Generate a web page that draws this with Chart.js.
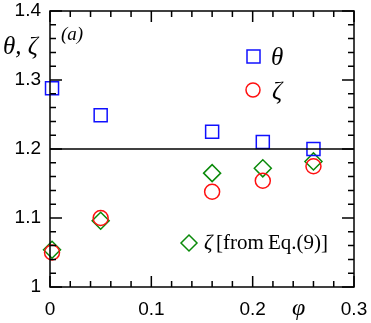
<!DOCTYPE html>
<html>
<head>
<meta charset="utf-8">
<script src="https://cdn.jsdelivr.net/npm/chart.js@4.4.1/dist/chart.umd.min.js"></script>
<style>
  html, body { margin: 0; padding: 0; background: #fff; }
  #wrap { width: 371px; height: 323px; }
</style>
</head>
<body>
<div id="wrap"><canvas id="chart" width="371" height="323"></canvas></div>
<script>
// Data
var phi     = [0.002, 0.05, 0.16, 0.21, 0.26];
var theta   = [1.288, 1.249, 1.225, 1.210, 1.200];
var zeta    = [1.050, 1.100, 1.138, 1.154, 1.175];
var zetaEq9 = [1.054, 1.096, 1.165, 1.172, 1.182];
var refLevel = 1.2;
var refSpan  = [0, 0.3];

// Axis ticks
var xTicks = [0, 0.1, 0.2, 0.3];
var yTicks = [1, 1.1, 1.2, 1.3, 1.4];
var xMinorStep = 0.02;
var yMinorStep = 0.02;

var BLUE = '#1010ff', RED = '#ff1010', GREEN = '#0a8a0a';
var SANS = "'Liberation Sans', Arial, sans-serif";
var SERIF = "'Liberation Serif', 'DejaVu Serif', serif";

function pts(xs, ys) {
  return xs.map(function(x, i) { return { x: x, y: ys[i] }; });
}

// Inward ticks on all four sides + frame + text annotations
var framePlugin = {
  id: 'frame',
  afterDraw: function(chart) {
    var ctx = chart.ctx, a = chart.chartArea;
    var xs = chart.scales.x, ys = chart.scales.y;
    ctx.save();
    ctx.strokeStyle = '#000';
    ctx.lineWidth = 1.5;
    ctx.strokeRect(a.left, a.top, a.right - a.left, a.bottom - a.top);

    function major(list, v) {
      return list.some(function(t) { return Math.abs(t - v) < 1e-6; });
    }
    ctx.beginPath();
    var v, p, len;
    for (v = xs.min; v <= xs.max + 1e-9; v += xMinorStep) {
      p = xs.getPixelForValue(v);
      len = major(xTicks, v) ? 11 : 6;
      ctx.moveTo(p, a.bottom); ctx.lineTo(p, a.bottom - len);
      ctx.moveTo(p, a.top); ctx.lineTo(p, a.top + len);
    }
    for (v = ys.min; v <= ys.max + 1e-9; v += yMinorStep) {
      p = ys.getPixelForValue(v);
      len = major(yTicks, v) ? 12 : 6;
      ctx.moveTo(a.left, p); ctx.lineTo(a.left + len, p);
      ctx.moveTo(a.right, p); ctx.lineTo(a.right - len, p);
    }
    ctx.stroke();

    // axis titles and panel label
    ctx.fillStyle = '#000';
    ctx.textBaseline = 'middle';
    ctx.textAlign = 'left';
    ctx.font = 'italic 25px ' + SERIF;
    ctx.fillText('\u03B8, \u03B6', 3, 47);
    ctx.font = 'italic 24px ' + SERIF;
    ctx.fillText('\u03C6', 292, 309);
    ctx.font = 'italic 19px ' + SERIF;
    ctx.fillText('(a)', 61, 35);

    // legend
    ctx.lineWidth = 1.5;
    ctx.strokeStyle = BLUE;
    ctx.strokeRect(247, 50, 13, 13);
    ctx.strokeStyle = RED;
    ctx.beginPath(); ctx.arc(253, 90, 7, 0, Math.PI * 2); ctx.stroke();
    ctx.strokeStyle = GREEN;
    ctx.beginPath();
    ctx.moveTo(189, 235); ctx.lineTo(197, 243); ctx.lineTo(189, 251); ctx.lineTo(181, 243);
    ctx.closePath(); ctx.stroke();

    ctx.fillStyle = '#000';
    ctx.font = 'italic 25px ' + SERIF;
    ctx.fillText('\u03B8', 271, 58);
    ctx.fillText('\u03B6', 272, 92);
    ctx.font = 'italic 21px ' + SERIF;
    ctx.fillText('\u03B6', 204, 243);
    ctx.font = '21px ' + SERIF;
    ctx.fillText('[from\u2009Eq.(9)]', 216, 243);
    ctx.restore();
  }
};

new Chart(document.getElementById('chart'), {
  type: 'scatter',
  data: {
    datasets: [
      {
        type: 'line', data: pts(refSpan, [refLevel, refLevel]),
        borderColor: '#000', borderWidth: 1.5, pointRadius: 0, fill: false
      },
      {
        data: pts(phi, theta), pointStyle: 'rect', pointRadius: 9.2,
        borderColor: BLUE, backgroundColor: 'transparent', pointBorderWidth: 1.5, clip: false
      },
      {
        data: pts(phi, zeta), pointStyle: 'circle', pointRadius: 7.5,
        borderColor: RED, backgroundColor: 'transparent', pointBorderWidth: 1.5, clip: false
      },
      {
        data: pts(phi, zetaEq9), pointStyle: 'rectRot', pointRadius: 8.5,
        borderColor: GREEN, backgroundColor: 'transparent', pointBorderWidth: 1.5, clip: false
      }
    ]
  },
  options: {
    responsive: false,
    animation: false,
    layout: { padding: { top: 11, right: 17, left: 0, bottom: 0 } },
    plugins: { legend: { display: false }, tooltip: { enabled: false } },
    scales: {
      x: {
        type: 'linear', min: 0, max: 0.3,
        grid: { display: false, drawTicks: false },
        border: { display: false },
        afterBuildTicks: function(s) { s.ticks = xTicks.map(function(v) { return { value: v }; }); },
        afterFit: function(s) { s.height = 36; s.paddingLeft = 0; s.paddingRight = 0; },
        ticks: {
          padding: 11, color: '#000',
          font: { family: SANS, size: 19 },
          callback: function(v) { return String(Math.round(v * 10) / 10); }
        }
      },
      y: {
        type: 'linear', min: 1, max: 1.4,
        grid: { display: false, drawTicks: false },
        border: { display: false },
        afterBuildTicks: function(s) { s.ticks = yTicks.map(function(v) { return { value: v }; }); },
        afterFit: function(s) { s.width = 50; s.paddingTop = 0; s.paddingBottom = 0; },
        ticks: {
          padding: 9, color: '#000',
          font: { family: SANS, size: 19 },
          callback: function(v) { return String(Math.round(v * 10) / 10); }
        }
      }
    }
  },
  plugins: [framePlugin]
});
</script>
</body>
</html>
